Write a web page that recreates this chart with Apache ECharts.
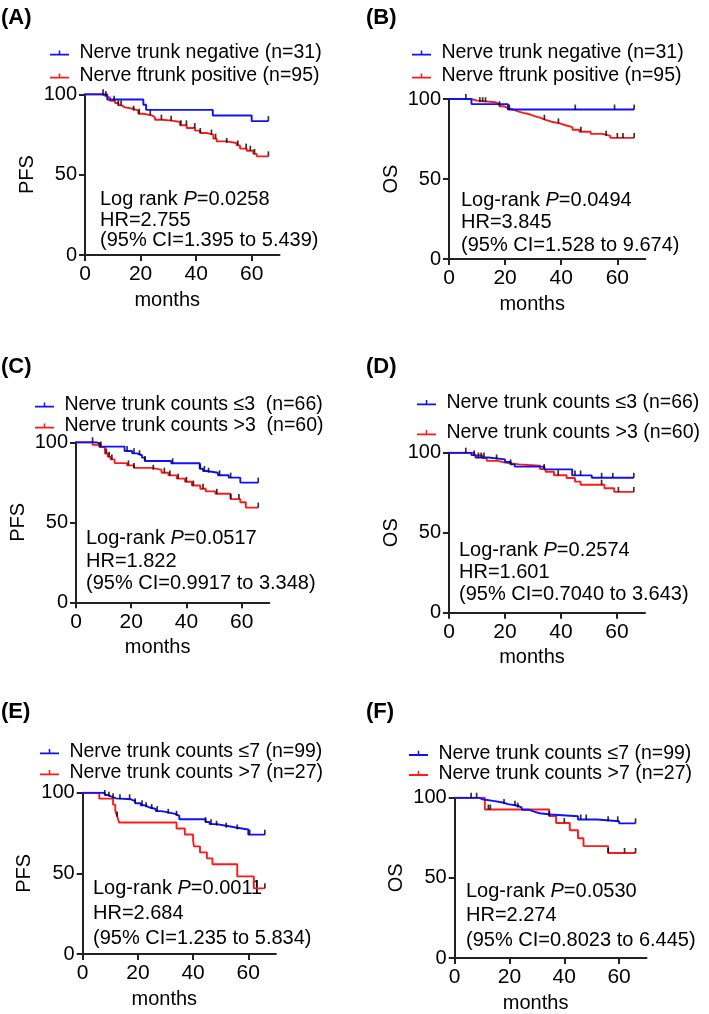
<!DOCTYPE html>
<html>
<head>
<meta charset="utf-8">
<script src="https://cdn.jsdelivr.net/npm/echarts@6/dist/echarts.min.js"></script>
<style>html,body{margin:0;padding:0;background:#fff}#c{width:709px;height:1014px}</style>
</head>
<body>
<div id="c"></div>
<script>
// ---------------- DATA ----------------
const xTicks = [0, 20, 40, 60];
const yTicks = [0, 50, 100];

const namesAB = ['Nerve trunk negative (n=31)', 'Nerve ftrunk positive (n=95)'];
const namesC  = ['Nerve trunk counts \u22643  (n=66)', 'Nerve trunk counts >3  (n=60)'];
const namesD  = ['Nerve trunk counts \u22643 (n=66)', 'Nerve trunk counts >3 (n=60)'];
const namesEF = ['Nerve trunk counts \u22647 (n=99)', 'Nerve trunk counts >7 (n=27)'];

// [month, survival %] step points
const A_blue = [[0,100],[8,96.8],[21,93.5],[22,90.3],[46,86.8],[60,83.3],[66,83.3]];
const A_red  = [[0,100],[6,98.9],[7.6,97.9],[9,96.0],[10.8,94.6],[12,93.1],[13.2,91.9],[14.4,91.0],[17.4,89.8],[19.2,87.9],[21,86.9],[24,85.7],[25.2,84.2],[27.6,83.6],[31.2,82.8],[34.2,80.7],[36.6,79.0],[39.6,77.4],[41.4,75.9],[43.8,74.9],[46.2,72.4],[47.4,70.7],[51,69.7],[54.6,68.2],[55.8,66.2],[58.2,64.9],[60.6,62.9],[61.8,61.4],[66,61.4]];
const B_blue = [[0,100],[8,96.8],[21,93.4],[66,93.4]];
const B_red  = [[0,100],[8,99],[10,98],[16.5,96.8],[18,95.5],[19.5,94.3],[21,93.3],[23,92.3],[24.5,91.3],[26.5,90.3],[29,89.3],[30.5,88.2],[32.7,87],[34.4,85.8],[36.5,84.8],[39.5,83.6],[41.5,82.4],[44,80.8],[46.5,79.5],[50.5,78.2],[54.7,77],[57.5,75.7],[66,75.7]];
const C_blue = [[0,100],[7.6,98.8],[8.8,97.3],[17.6,94.6],[20.3,93.1],[22.1,91.9],[23.9,90.4],[24.9,88.3],[34.5,86.9],[44.8,83.5],[46,82.1],[47.4,81],[51.4,79.4],[55.3,77.9],[59.5,74.8],[66,74.8]];
const C_red  = [[0,100],[6,98.5],[8.5,97],[10.5,93],[11.5,91],[12.5,89.3],[14,87],[18.5,85.6],[21,84],[27.5,82.8],[31,81],[33.5,79.3],[36.5,77.3],[39.5,75.3],[42,73],[45,71],[47,69.3],[50.5,67.8],[56,64.5],[59.5,62.5],[61.5,59.2],[66,59.2]];
const D_blue = [[0,100],[8,98.5],[9.5,97],[14,95.8],[20,94.2],[22,92.7],[23.5,91.3],[34,89.6],[44,85.8],[51,84.3],[66,84.3]];
const D_red  = [[0,100],[9,98.3],[12,96.6],[13.5,94.9],[17.5,93.8],[20,92.7],[25,91.8],[32.5,89.8],[34.5,88.1],[37.5,85.9],[42,84.2],[45,81.9],[47,80],[55.5,77.8],[59,75.5],[66,75.5]];
const E_blue = [[0,100],[8,98.6],[9.2,97.5],[10.5,96.5],[12,95.9],[17.5,94.8],[19,93.5],[21,92.2],[22.5,91],[24,89.9],[26.5,88.6],[28.5,87.8],[31,86.9],[33.5,85.7],[35,83.5],[44.5,81.8],[46,80.5],[48.5,79.5],[52,78.3],[56,77.2],[60,74],[66,74]];
const E_red  = [[0,100],[6,96.3],[11,92.6],[11.8,88.9],[12.5,85.2],[13.2,81.5],[34,77.8],[37,74.1],[40,70.4],[40.3,66.7],[42.5,63],[45,59.3],[47,55.6],[56,48.1],[62,40.7],[66,40.7]];
const F_blue = [[0,100],[9,99],[10,98],[14,97],[17.5,96],[19.5,95],[23,93.8],[24.5,92.5],[27,91.3],[29,90.3],[31,89.5],[35,88.4],[45,86.4],[52,85.3],[60,84],[66,84]];
const F_red  = [[0,100],[11,92.6],[34.5,88.5],[37,84.2],[42,79.7],[45,74.7],[47,69.8],[56,65.5],[66,65.5]];

// censored times (months)
const A_blueCens = [6.5, 66];
const A_redCens  = [7.5, 10.5, 12, 13, 17.5, 19.5, 23.5, 27.5, 31, 34.5, 36.5, 39.5, 41.5, 45.5, 47, 51, 55, 58, 59.5, 61, 66];
const B_blueCens = [6, 21.5, 45, 59, 66];
const B_redCens  = [11, 12, 13, 18, 34, 39, 47, 56, 60, 62, 66];
const C_blueCens = [6, 9, 18.5, 21, 23, 25, 35, 45, 46.5, 48, 52, 56, 66];
const C_redCens  = [8.5, 11, 12, 13, 19, 21, 28, 32, 34, 37, 40, 42.5, 46, 51, 56, 59, 66];
const D_blueCens = [6, 10.5, 11.5, 12.5, 17, 22, 45, 47, 54.5, 58.5, 66];
const D_redCens  = [9, 34, 39, 54.5, 60.5, 66];
const E_blueCens = [8, 9.5, 11, 13.5, 17, 19, 21.5, 23, 25, 27, 31, 34, 44.5, 46.5, 48.5, 52, 56, 60.5, 66];
const E_redCens  = [12.5, 66];
const F_blueCens = [6, 8, 18, 22, 23, 46, 48, 56, 59.5, 66];
const F_redCens  = [12.3, 13, 34.5, 40, 56, 62, 66];

const yNames = ['PFS', 'OS', 'PFS', 'OS', 'PFS', 'OS'];
const panelLetters = ['(A)', '(B)', '(C)', '(D)', '(E)', '(F)'];
const annoLine1 = [['Log rank ', '=0.0258'], ['Log-rank ', '=0.0494'], ['Log-rank ', '=0.0517'], ['Log-rank ', '=0.2574'], ['Log-rank ', '=0.0011'], ['Log-rank ', '=0.0530']];
const annoLine2 = ['HR=2.755', 'HR=3.845', 'HR=1.822', 'HR=1.601', 'HR=2.684', 'HR=2.274'];
const annoLine3 = ['(95% CI=1.395 to 5.439)', '(95% CI=1.528 to 9.674)', '(95% CI=0.9917 to 3.348)', '(95% CI=0.7040 to 3.643)', '(95% CI=1.235 to 5.834)', '(95% CI=0.8023 to 6.445)'];

// ---------------- LAYOUT ----------------
const FONT = '"Liberation Sans", Arial, Helvetica, sans-serif';
const BLUE = '#1010ff', RED = '#ff1a1a', AXIS = '#222';
const grids = [
  {left: 85,    top: 94.3,  width: 194.5, height: 160.7},
  {left: 449,   top: 99,    width: 196.4, height: 160},
  {left: 76,    top: 442.3, width: 193.3, height: 160},
  {left: 449,   top: 452.7, width: 196,   height: 160},
  {left: 82.7,  top: 792.7, width: 193.2, height: 161.3},
  {left: 454.7, top: 797.7, width: 191.8, height: 160.6}
];
const legendPos = [
  {left: 50,  top: 43,    gap: 3},
  {left: 412, top: 43,    gap: 3},
  {left: 35,  top: 395,   gap: 1},
  {left: 417, top: 392.7, gap: 10},
  {left: 40,  top: 741.7, gap: 1},
  {left: 409, top: 743.3, gap: 0}
];
const annoPos = [
  {x: 100, y: 199.3, dy: 20.7},
  {x: 461, y: 200,   dy: 22.5},
  {x: 86,  y: 538.5, dy: 22.5},
  {x: 459, y: 550,   dy: 22},
  {x: 93,  y: 888.5, dy: 25},
  {x: 466, y: 891,   dy: 24.5}
];
const letterPos = [[1, 17.5], [366, 18.3], [1, 366.7], [366, 366.7], [1, 712.3], [366, 712.3]];

const curves = [[A_blue, A_red], [B_blue, B_red], [C_blue, C_red], [D_blue, D_red], [E_blue, E_red], [F_blue, F_red]];
const cens = [[A_blueCens, A_redCens], [B_blueCens, B_redCens], [C_blueCens, C_redCens], [D_blueCens, D_redCens], [E_blueCens, E_redCens], [F_blueCens, F_redCens]];
const names = [namesAB, namesAB, namesC, namesD, namesEF, namesEF];

function survAt(steps, t) {
  let v = steps[0][1];
  for (const p of steps) { if (p[0] <= t) v = p[1]; }
  return v;
}

const option = {
  animation: false,
  backgroundColor: '#fff',
  textStyle: {fontFamily: FONT},
  grid: grids.map(g => Object.assign({containLabel: false}, g)),
  xAxis: grids.map((g, i) => ({
    gridIndex: i, type: 'value', min: 0, max: 70, interval: 20,
    name: 'months', nameLocation: 'middle', nameGap: 35,
    nameTextStyle: {fontSize: 20, color: '#000', fontFamily: FONT, padding: [0, 30, 0, 0]},
    axisLine: {show: true, onZero: false, lineStyle: {color: AXIS, width: 2}},
    axisTick: {show: true, length: 6, lineStyle: {color: AXIS, width: 2}, customValues: xTicks},
    axisLabel: {fontSize: 21, color: '#000', margin: 9, fontFamily: FONT, customValues: xTicks},
    splitLine: {show: false}
  })),
  yAxis: grids.map((g, i) => ({
    gridIndex: i, type: 'value', min: 0, max: 100, interval: 50,
    name: yNames[i], nameLocation: 'middle', nameGap: 48, nameRotate: 90,
    nameTextStyle: {fontSize: 20, color: '#000', fontFamily: FONT},
    axisLine: {show: true, onZero: false, lineStyle: {color: AXIS, width: 2}},
    axisTick: {show: true, length: 6, lineStyle: {color: AXIS, width: 2}},
    axisLabel: {fontSize: 20, color: '#000', margin: 8, fontFamily: FONT},
    splitLine: {show: false}
  })),
  legend: names.map((nm, i) => ({
    data: nm, orient: 'vertical', left: legendPos[i].left, top: legendPos[i].top,
    itemGap: legendPos[i].gap, itemWidth: 19, itemHeight: 6, padding: 0,
    icon: 'path://M0,4.1H20V6H0Z M9.2,0.5H10.8V4.1H9.2Z',
    formatter: n => ' ' + n,
    textStyle: {fontSize: 19.5, color: '#000', fontFamily: FONT},
    selectedMode: false
  })),
  series: [],
  graphic: []
};

curves.forEach((pair, i) => {
  pair.forEach((steps, k) => {
    option.series.push({
      type: 'line', name: names[i][k], xAxisIndex: i, yAxisIndex: i,
      data: steps, step: 'end', showSymbol: false, symbol: 'none',
      lineStyle: {color: k === 0 ? BLUE : RED, width: 1.9},
      itemStyle: {color: k === 0 ? BLUE : RED},
      z: k === 0 ? 3 : 2
    });
    option.series.push({
      type: 'scatter', name: 'censor-' + i + '-' + k, xAxisIndex: i, yAxisIndex: i,
      data: cens[i][k].map(t => [t, survAt(steps, t)]),
      symbol: 'rect', symbolSize: [1.7, 5], symbolOffset: [0, -2.5],
      itemStyle: {color: '#000'}, z: 4, silent: true
    });
  });
});

const normal = {fontSize: 20, fontFamily: FONT, fill: '#000'};
annoPos.forEach((p, i) => {
  option.graphic.push({
    type: 'text', x: p.x, y: p.y,
    style: {
      text: '{n|' + annoLine1[i][0] + '}{it|P}{n|' + annoLine1[i][1] + '}',
      verticalAlign: 'middle', align: 'left',
      rich: {n: {fontSize: 20, fontFamily: FONT, color: '#000'}, it: {fontSize: 20, fontFamily: FONT, fontStyle: 'italic', color: '#000'}}
    }
  });
  option.graphic.push({type: 'text', x: p.x, y: p.y + p.dy, style: Object.assign({text: annoLine2[i], verticalAlign: 'middle'}, normal)});
  option.graphic.push({type: 'text', x: p.x, y: p.y + 2 * p.dy, style: Object.assign({text: annoLine3[i], verticalAlign: 'middle'}, normal)});
});
letterPos.forEach((p, i) => {
  option.graphic.push({type: 'text', x: p[0], y: p[1], style: {text: panelLetters[i], verticalAlign: 'middle', fontSize: 22, fontWeight: 'bold', fontFamily: FONT, fill: '#000'}});
});

const chart = echarts.init(document.getElementById('c'), null, {renderer: 'canvas'});
chart.setOption(option);
</script>
</body>
</html>
